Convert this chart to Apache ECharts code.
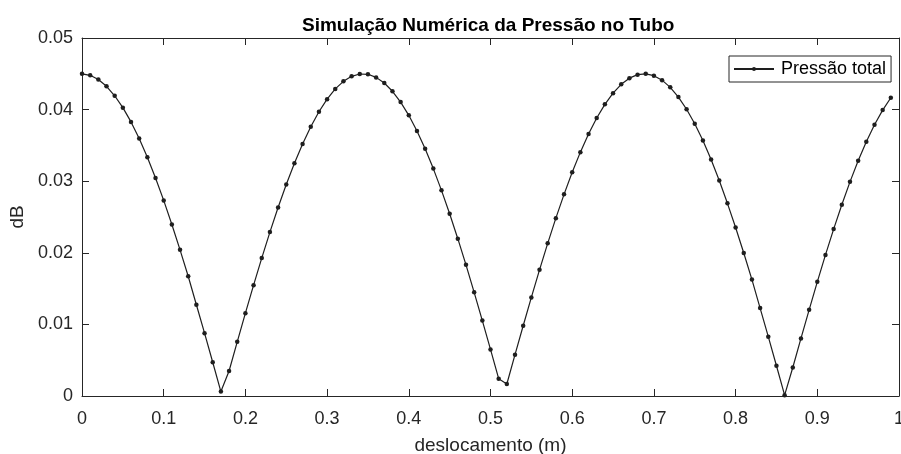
<!DOCTYPE html>
<html>
<head>
<meta charset="utf-8">
<script src="https://cdn.jsdelivr.net/npm/echarts@6/dist/echarts.min.js"></script>
<style>
html,body{margin:0;padding:0;background:#fff;}
#c{width:901px;height:454px;}
</style>
</head>
<body>
<div id="c"></div>
<script>
const titleText = "Simulação Numérica da Pressão no Tubo";
const xName = "deslocamento (m)";
const yName = "dB";
const seriesName = "Pressão total";

const xValues = [
  0.00,0.01,0.02,0.03,0.04,0.05,0.06,0.07,0.08,0.09,
  0.10,0.11,0.12,0.13,0.14,0.15,0.16,0.17,0.18,0.19,
  0.20,0.21,0.22,0.23,0.24,0.25,0.26,0.27,0.28,0.29,
  0.30,0.31,0.32,0.33,0.34,0.35,0.36,0.37,0.38,0.39,
  0.40,0.41,0.42,0.43,0.44,0.45,0.46,0.47,0.48,0.49,
  0.50,0.51,0.52,0.53,0.54,0.55,0.56,0.57,0.58,0.59,
  0.60,0.61,0.62,0.63,0.64,0.65,0.66,0.67,0.68,0.69,
  0.70,0.71,0.72,0.73,0.74,0.75,0.76,0.77,0.78,0.79,
  0.80,0.81,0.82,0.83,0.84,0.85,0.86,0.87,0.88,0.89,
  0.90,0.91,0.92,0.93,0.94,0.95,0.96,0.97,0.98,0.99
];

const pressure = [
  0.04500,0.04479,0.04420,0.04325,0.04193,0.04027,0.03828,0.03596,0.03335,0.03045,
  0.02732,0.02396,0.02041,0.01672,0.01275,0.00877,0.00471,0.00062,0.00349,0.00756,
  0.01157,0.01548,0.01926,0.02289,0.02633,0.02954,0.03251,0.03521,0.03761,0.03970,
  0.04146,0.04289,0.04395,0.04465,0.04497,0.04493,0.04450,0.04371,0.04256,0.04105,
  0.03920,0.03702,0.03453,0.03176,0.02872,0.02545,0.02197,0.01832,0.01448,0.01053,
  0.00650,0.00242,0.00168,0.00577,0.00981,0.01377,0.01762,0.02132,0.02484,0.02816,
  0.03124,0.03406,0.03659,0.03882,0.04073,0.04230,0.04353,0.04439,0.04488,0.04499,
  0.04474,0.04411,0.04311,0.04175,0.04005,0.03802,0.03567,0.03302,0.03009,0.02691,
  0.02353,0.01997,0.01626,0.01228,0.00829,0.00422,0.00012,0.00398,0.00804,0.01204,
  0.01594,0.01971,0.02331,0.02672,0.02991,0.03285,0.03551,0.03788,0.03993,0.04165
];

const xMin = 0, xMax = 1, xStep = 0.1;
const yMin = 0, yMax = 0.05, yStep = 0.01;

const points = xValues.map((x, i) => [x, pressure[i]]);

const axisColor = '#262626';
const font = '"Liberation Sans", Arial, Helvetica, sans-serif';

function mkX(pos, show) {
  return {
    type: 'value', position: pos, min: xMin, max: xMax, interval: xStep,
    axisLine: { show: true, onZero: false, lineStyle: { color: axisColor, width: 1 } },
    axisTick: { show: true, inside: true, length: 7, lineStyle: { color: axisColor } },
    axisLabel: { show: show, color: axisColor, fontSize: 18, fontFamily: font, margin: 14,
      formatter: v => String(Math.round(v * 10) / 10) },
    splitLine: { show: false },
    name: show ? xName : '', nameLocation: 'middle', nameGap: 40,
    nameTextStyle: { color: axisColor, fontSize: 19, fontFamily: font }
  };
}
function mkY(pos, show) {
  return {
    type: 'value', position: pos, min: yMin, max: yMax, interval: yStep,
    axisLine: { show: true, onZero: false, lineStyle: { color: axisColor, width: 1 } },
    axisTick: { show: true, inside: true, length: 7, lineStyle: { color: axisColor } },
    axisLabel: { show: show, color: axisColor, fontSize: 18, fontFamily: font, margin: 9,
      formatter: v => String(Math.round(v * 100) / 100) },
    splitLine: { show: false },
    name: show ? yName : '', nameLocation: 'middle', nameGap: 55, nameRotate: 90,
    nameTextStyle: { color: axisColor, fontSize: 19, fontFamily: font }
  };
}

const chart = echarts.init(document.getElementById('c'), null, { renderer: 'canvas' });
chart.setOption({
  backgroundColor: '#ffffff',
  animation: false,
  title: {
    text: titleText, left: 297, top: 11,
    textStyle: { color: '#000', fontSize: 19, fontWeight: 'bold', fontFamily: font }
  },
  legend: {
    left: 729, top: 56, orient: 'horizontal',
    padding: [4, 5, 4, 4],
    itemWidth: 40, itemHeight: 5, itemGap: 0,
    borderColor: axisColor, borderWidth: 1, backgroundColor: '#fff',
    textStyle: { color: '#000', fontSize: 18, fontFamily: font, padding: [0, 0, 0, 2] },
    data: [{ name: seriesName }]
  },
  grid: { left: 82, right: 2, top: 38, bottom: 58, containLabel: false, outerBoundsMode: 'none' },
  xAxis: [mkX('bottom', true), mkX('top', false)],
  yAxis: [mkY('left', true), mkY('right', false)],
  series: [{
    name: seriesName, type: 'line', xAxisIndex: 0, yAxisIndex: 0,
    data: points,
    showAllSymbol: true,
    symbol: 'circle', symbolSize: 4.5,
    itemStyle: { color: '#1e1e1e' },
    lineStyle: { color: '#1e1e1e', width: 1.2 },
    clip: false
  }]
});
</script>
</body>
</html>
